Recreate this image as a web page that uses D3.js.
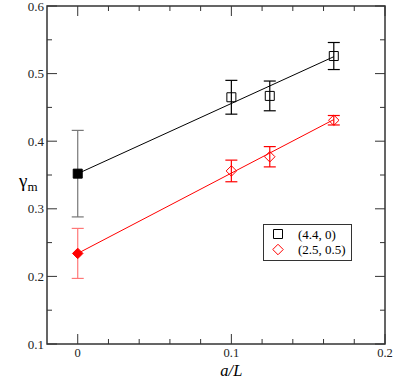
<!DOCTYPE html>
<html>
<head>
<meta charset="utf-8">
<script src="https://cdn.jsdelivr.net/npm/d3@7"></script>
<style>
body { margin: 0; background: #fff; }
</style>
</head>
<body>
<div id="chart"></div>
<script>
// data
var seriesNames = ["(4.4, 0)", "(2.5, 0.5)"];
var seriesColors = ["#000000", "#ff0000"];
var errColors = ["#000000", "#ff0000"];
var extrapErrColors = ["#777777", "#ff7777"];
var aL = [0.1, 0.125, 0.16667];
var blackVals = [0.465, 0.467, 0.526];
var blackErr = [0.025, 0.022, 0.020];
var redVals = [0.356, 0.377, 0.431];
var redErr = [0.016, 0.015, 0.007];
var extrapVals = [0.352, 0.234];
var extrapErr = [0.064, 0.037];
var fitEnds = [[0.352, 0.525], [0.234, 0.432]];
var xTicks = [0, 0.1, 0.2];
var yTicks = [0.1, 0.2, 0.3, 0.4, 0.5, 0.6];

var serif = "'Liberation Serif', 'Times New Roman', 'DejaVu Serif', serif";

function base() {
    var w = 395, h = 379;
    var left = 47, right = 385, top = 6, bottom = 344;

    var svg = d3.select("#chart").append("svg")
        .attr("width", w).attr("height", h)
        .attr("font-family", serif);

    var x = d3.scaleLinear().domain([-0.02, 0.2]).range([left, right]);
    var y = d3.scaleLinear().domain([0.1, 0.6]).range([bottom, top]);

    var axisCol = "#333";

    // frame
    svg.append("rect")
        .attr("x", left).attr("y", top)
        .attr("width", right - left).attr("height", bottom - top)
        .attr("fill", "none").attr("stroke", axisCol).attr("stroke-width", 1.5);

    // ticks (inside, mirrored)
    var xMinor = d3.range(0, 0.2001, 0.02);
    var yMinor = d3.range(0.15, 0.6, 0.1);
    xMinor.forEach(function(v) {
        var major = Math.abs(v * 10 - Math.round(v * 10)) < 1e-6;
        var len = major ? 10 : 5;
        svg.append("line").attr("x1", x(v)).attr("x2", x(v))
            .attr("y1", bottom).attr("y2", bottom - len)
            .attr("stroke", axisCol).attr("stroke-width", 1);
        svg.append("line").attr("x1", x(v)).attr("x2", x(v))
            .attr("y1", top).attr("y2", top + len)
            .attr("stroke", axisCol).attr("stroke-width", 1);
    });
    yTicks.concat(yMinor).forEach(function(v, i) {
        var len = i < yTicks.length ? 10 : 5;
        svg.append("line").attr("x1", left).attr("x2", left + len)
            .attr("y1", y(v)).attr("y2", y(v))
            .attr("stroke", axisCol).attr("stroke-width", 1);
        svg.append("line").attr("x1", right).attr("x2", right - len)
            .attr("y1", y(v)).attr("y2", y(v))
            .attr("stroke", axisCol).attr("stroke-width", 1);
    });

    // tick labels
    svg.selectAll("text.xt").data(xTicks).enter().append("text")
        .attr("class", "xt")
        .attr("x", function(d) { return x(d); })
        .attr("y", bottom + 13)
        .attr("text-anchor", "middle")
        .attr("font-size", 12.5)
        .attr("fill", "#222")
        .text(function(d) { return d === 0 ? "0" : d3.format(".1f")(d); });
    svg.selectAll("text.yt").data(yTicks).enter().append("text")
        .attr("class", "yt")
        .attr("x", left - 3)
        .attr("y", function(d) { return y(d) + 4.5; })
        .attr("text-anchor", "end")
        .attr("font-size", 13)
        .attr("fill", "#222")
        .text(function(d) { return d3.format(".1f")(d); });

    // axis titles
    svg.append("text")
        .attr("x", x(0.1)).attr("y", 376)
        .attr("text-anchor", "middle")
        .attr("font-size", 16.5).attr("font-style", "italic")
        .text("a/L");
    var yl = svg.append("text")
        .attr("x", 19).attr("y", 187)
        .attr("font-size", 19);
    yl.append("tspan").text("γ");
    yl.append("tspan").attr("font-size", 13).attr("dy", 4).text("m");

    // fit lines
    fitEnds.forEach(function(f, i) {
        svg.append("line")
            .attr("x1", x(0)).attr("y1", y(f[0]))
            .attr("x2", x(aL[2])).attr("y2", y(f[1]))
            .attr("stroke", seriesColors[i]).attr("stroke-width", 1);
    });

    function errBar(xv, yv, e, col) {
        var cap = 6;
        svg.append("line").attr("x1", x(xv)).attr("x2", x(xv))
            .attr("y1", y(yv - e)).attr("y2", y(yv + e))
            .attr("stroke", col).attr("stroke-width", 1.2);
        [yv - e, yv + e].forEach(function(v) {
            svg.append("line").attr("x1", x(xv) - cap).attr("x2", x(xv) + cap)
                .attr("y1", y(v)).attr("y2", y(v))
                .attr("stroke", col).attr("stroke-width", 1.2);
        });
    }

    var series = [blackVals, redVals];
    var errs = [blackErr, redErr];
    var sq = d3.symbol().type(d3.symbolSquare).size(81);
    var dm = d3.symbol().type(d3.symbolDiamond2).size(70);

    series.forEach(function(vals, s) {
        vals.forEach(function(v, i) {
            errBar(aL[i], v, errs[s][i], errColors[s]);
        });
        errBar(0, extrapVals[s], extrapErr[s], extrapErrColors[s]);
    });
    series.forEach(function(vals, s) {
        var sym = s === 0 ? sq : dm;
        svg.selectAll("path.p" + s).data(vals).enter().append("path")
            .attr("d", sym)
            .attr("transform", function(d, i) { return "translate(" + x(aL[i]) + "," + y(d) + ")"; })
            .attr("fill", "none")
            .attr("stroke", seriesColors[s]).attr("stroke-width", 1);
        svg.append("path")
            .attr("d", sym)
            .attr("transform", "translate(" + x(0) + "," + y(extrapVals[s]) + ")")
            .attr("fill", seriesColors[s]).attr("stroke", seriesColors[s]);
    });

    // legend
    var lg = svg.append("g");
    lg.append("rect")
        .attr("x", 263.5).attr("y", 224.5).attr("width", 88).attr("height", 36)
        .attr("fill", "#fff").attr("stroke", axisCol).attr("stroke-width", 1);
    seriesNames.forEach(function(n, i) {
        var ly = 234 + i * 15.5;
        lg.append("path")
            .attr("d", i === 0 ? sq : dm)
            .attr("transform", "translate(278," + ly + ")")
            .attr("fill", "none").attr("stroke", seriesColors[i]).attr("stroke-width", 1);
        lg.append("text")
            .attr("x", 298).attr("y", ly + 4.5)
            .attr("font-size", 13)
            .text(n);
    });
}

window.onload = base;
</script>
</body>
</html>
